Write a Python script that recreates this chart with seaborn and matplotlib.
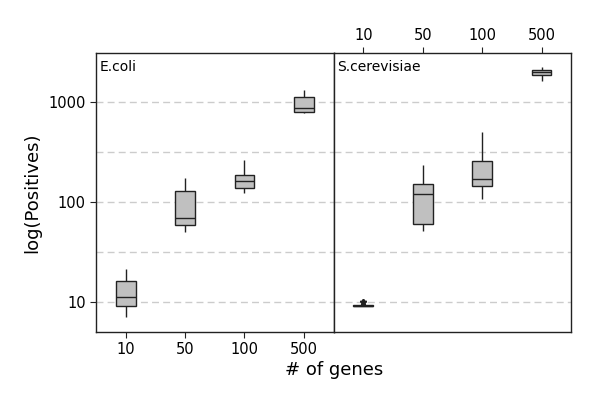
import pandas as pd
import matplotlib
matplotlib.use("Agg")
import matplotlib.pyplot as plt
import seaborn as sns

# gene set sizes
genes = ["10", "50", "100", "500"]

# representative values per box: min, q1, median, q3, max
ecoli_10 = [7.0, 9.1, 11.3, 16.3, 21.2]
ecoli_50 = [49.5, 59, 69, 129, 173]
ecoli_100 = [123, 136, 161, 186, 261]
ecoli_500 = [778, 795, 860, 1114, 1309]

# S.cerevisiae, 10 genes: collapsed box with a few outliers
scer_10 = [9.2] * 9 + [9.9, 10.0, 10.1]
scer_50 = [50.7, 60, 119, 152, 231]
scer_100 = [106, 143.5, 170, 253, 495]
scer_500 = [1623, 1833, 1964, 2057, 2190]

grid_levels = [10, 31.6, 100, 316, 1000]
y_ticks = [10, 100, 1000]


def to_frame(groups):
    rows = []
    for g, vals in zip(genes, groups):
        for v in vals:
            rows.append({"genes": g, "positives": v})
    return pd.DataFrame(rows)


df_ecoli = to_frame([ecoli_10, ecoli_50, ecoli_100, ecoli_500])
df_scer = to_frame([scer_10, scer_50, scer_100, scer_500])

sns.set_style("white")
plt.rcParams["font.family"] = ["DejaVu Sans"]
plt.rcParams["text.color"] = "black"
plt.rcParams["xtick.color"] = "black"
plt.rcParams["ytick.color"] = "black"
plt.rcParams["axes.labelcolor"] = "black"

fig, axes = plt.subplots(1, 2, figsize=(6, 4), dpi=100, sharey=True)
fig.subplots_adjust(left=0.16, right=0.952, bottom=0.171, top=0.867, wspace=0)

for ax, df, name in zip(axes, [df_ecoli, df_scer], ["E.coli", "S.cerevisiae"]):
    ax.set_yscale("log")
    ax.set_ylim(5.06, 3040)
    for lvl in grid_levels:
        ax.axhline(lvl, color="#cccccc", linestyle=(0, (5, 3)), linewidth=1, zorder=0)
    sns.boxplot(
        data=df,
        x="genes",
        y="positives",
        order=genes,
        ax=ax,
        color="#c0c0c0",
        saturation=1,
        width=0.33,
        linecolor="#222222",
        linewidth=1,
        showcaps=False,
        flierprops=dict(marker="*", markersize=5, markerfacecolor="#222222",
                        markeredgecolor="#222222"),
    )
    ax.set_xlim(-0.5, 3.5)
    ax.set_xlabel("")
    ax.set_ylabel("")
    ax.text(0.015, 0.975, name, transform=ax.transAxes, ha="left", va="top", fontsize=10)
    for sp in ax.spines.values():
        sp.set_visible(True)
        sp.set_color("#222222")
        sp.set_linewidth(1)
    ax.minorticks_off()

ax1, ax2 = axes
ax1.set_yticks(y_ticks)
ax1.set_yticklabels([str(t) for t in y_ticks])
ax1.tick_params(axis="y", which="both", left=True, length=4, labelsize=10.5, color="#222222")
ax1.tick_params(axis="x", bottom=True, length=4, labelsize=10.5, color="#222222")
ax1.set_ylabel("log(Positives)", fontsize=13, labelpad=5)

ax2.tick_params(axis="y", which="both", left=False, labelleft=False)
ax2.xaxis.tick_top()
ax2.tick_params(axis="x", top=True, bottom=False, length=4, labelsize=10.5, color="#222222")

fig.text(0.557, 0.075, "# of genes", ha="center", va="center", fontsize=13)

plt.savefig("out.png", dpi=100)
